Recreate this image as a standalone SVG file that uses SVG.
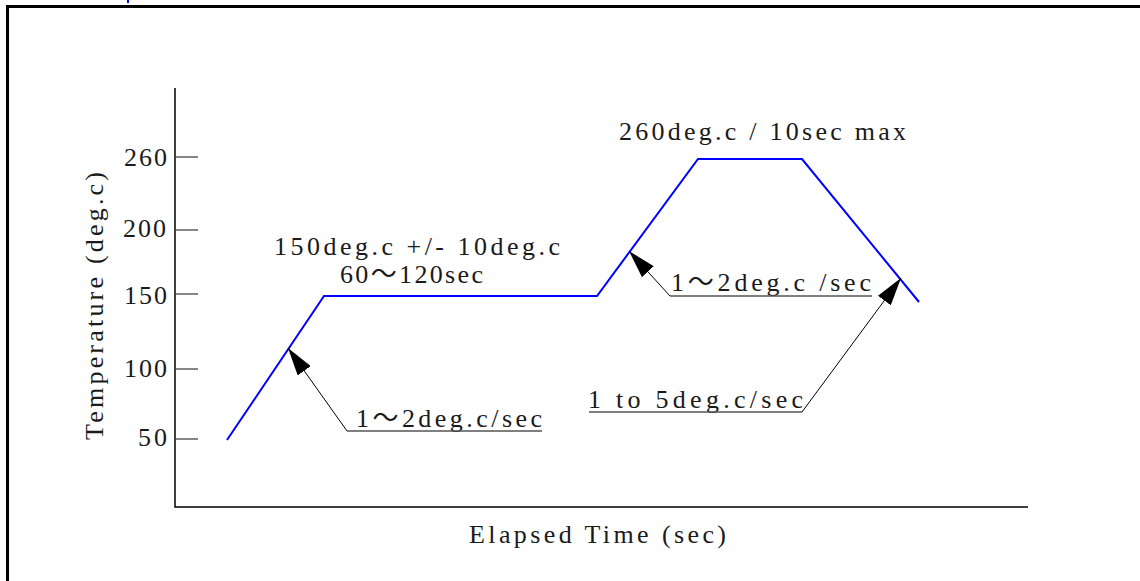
<svg xmlns="http://www.w3.org/2000/svg" width="1140" height="581" viewBox="0 0 1140 581">
<style>
.t{font-family:"Liberation Serif","Noto Sans CJK SC",serif;font-size:26px;fill:#1a1a1a}
.ax{stroke:#000;stroke-width:1.5;fill:none}
.tk{stroke:#444;stroke-width:1.3}
.ul{stroke:#555;stroke-width:1.5}
.ld{stroke:#000;stroke-width:1;fill:none}
.crv{stroke:#0000ff;stroke-width:2;fill:none;stroke-linejoin:miter}
</style>
<defs>
<marker id="ah" markerUnits="userSpaceOnUse" markerWidth="28" markerHeight="16" viewBox="0 0 28 16" refX="28" refY="8" orient="auto">
<path d="M0,0 L28,8 L0,16 z" fill="#000"/>
</marker>
</defs>
<rect width="1140" height="581" fill="#fff"/>
<rect x="7.5" y="6.5" width="1200" height="700" fill="none" stroke="#000" stroke-width="3"/>
<rect x="127" y="0" width="2" height="3" fill="#0000ff"/>
<g id="axes">
<path class="ax" d="M175,88 V507 H1028"/>
<line class="tk" x1="175" y1="157" x2="198" y2="157"/>
<line class="tk" x1="175" y1="230" x2="198" y2="230"/>
<line class="tk" x1="175" y1="294" x2="198" y2="294"/>
<line class="tk" x1="175" y1="369" x2="198" y2="369"/>
<line class="tk" x1="175" y1="439" x2="198" y2="439"/>
<text class="t" x="167" y="166" text-anchor="end" textLength="43">260</text>
<text class="t" x="166" y="237" text-anchor="end" textLength="43">200</text>
<text class="t" x="167" y="304" text-anchor="end" textLength="43">150</text>
<text class="t" x="167" y="377" text-anchor="end" textLength="43">100</text>
<text class="t" x="167" y="446" text-anchor="end" textLength="29">50</text>
<text class="t" transform="translate(103,306) rotate(-90)" x="0" y="0" text-anchor="middle" textLength="268">Temperature (deg.c)</text>
<text class="t" x="469" y="543" textLength="257">Elapsed Time (sec)</text>
</g>
<g id="profile">
<polyline class="crv" points="227,440 324,296 597,296 698,159 802,159 919,302"/>
</g>
<g id="labels">
<text class="t" x="274" y="255" textLength="286">150deg.c +/- 10deg.c</text>
<text class="t" x="340" y="283" textLength="143">60～120sec</text>
<text class="t" x="619" y="140" textLength="287">260deg.c / 10sec max</text>
<text class="t" x="671" y="291" textLength="200">1～2deg.c /sec</text>
<text class="t" x="356" y="427" textLength="186">1～2deg.c/sec</text>
<text class="t" x="588" y="408" textLength="215">1 to 5deg.c/sec</text>
</g>
<g id="connectors">
<line class="ul" x1="347" y1="431" x2="542" y2="431"/>
<line class="ld" x1="347" y1="431" x2="288" y2="348" marker-end="url(#ah)"/>
<line class="ul" x1="670" y1="296" x2="872" y2="296"/>
<line class="ld" x1="670" y1="296" x2="629" y2="251" marker-end="url(#ah)"/>
<line class="ul" x1="589" y1="412" x2="802" y2="412" stroke="#222"/>
<line class="ld" x1="802" y1="412" x2="901" y2="278" marker-end="url(#ah)"/>
</g>
</svg>
